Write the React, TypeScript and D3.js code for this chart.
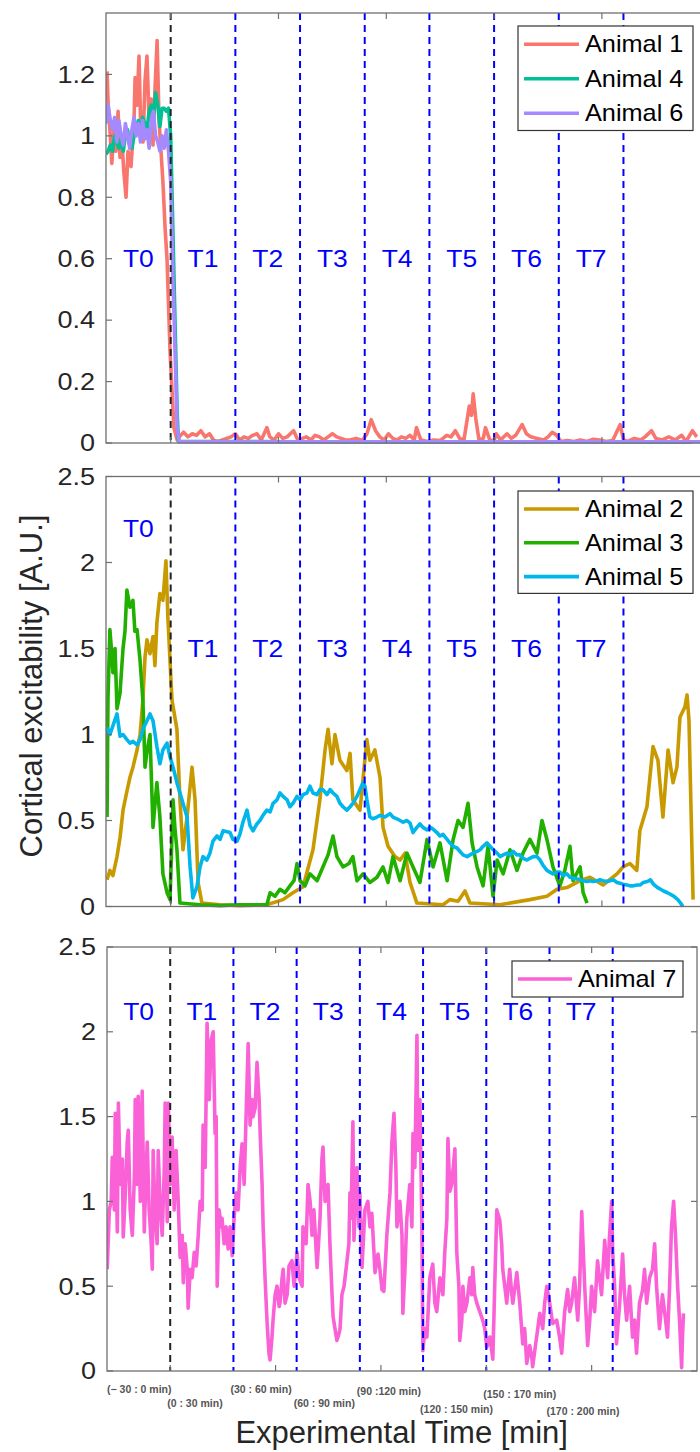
import React from 'react';
import * as d3 from 'd3';

type Pt = [number, number];

// ---------- categories / ticks ----------
const periodNames = ['T0', 'T1', 'T2', 'T3', 'T4', 'T5', 'T6', 'T7'];
const periodStarts = [-30, 0, 30, 60, 90, 120, 150, 180];
const periodLength = 30;
const boundaryTimes = [0, 30, 60, 90, 120, 150, 180, 210];
const xTickValues = [0, 50, 100, 150, 200];
const rangeLabels = ['(\u2212 30 : 0 min)', '(0 : 30 min)', '(30 : 60 min)', '(60 : 90 min)', '(90 :120 min)', '(120 : 150 min)', '(150 : 170 min)', '(170 : 200 min)'];
const topTicks = [0, 0.2, 0.4, 0.6, 0.8, 1, 1.2];
const lowerTicks = [0, 0.5, 1, 1.5, 2, 2.5];

// ---------- series (minutes, excitability) ----------
const animal1: Pt[] = [
  [-29.5, 1.21], [-29, 1.1], [-28, 1.0], [-27.3, 0.91], [-26.3, 1.02], [-25.4, 0.95], [-24.4, 1.08], [-23.5, 0.93], [-22.6, 0.98], [-21.7, 0.88],
  [-20.7, 0.8], [-19.8, 0.95], [-18.4, 0.9], [-17, 1.05], [-16.5, 1.19], [-15.6, 1.1], [-14.7, 1.26], [-13.8, 1.0], [-12.8, 0.98], [-11.9, 1.18],
  [-11, 1.26], [-10, 1.05], [-9.1, 1.12], [-8.2, 0.97], [-7.3, 1.15], [-6.3, 1.31], [-5.4, 1.05], [-4.5, 0.95], [-3.6, 0.85], [-2.6, 0.7],
  [-1.7, 0.6], [-0.3, 0.3], [1.5, 0.05], [3, 0.01],
  [4, 0.02], [6, 0.035], [8, 0.02], [10, 0.03], [12, 0.025], [14, 0.04], [16, 0.02], [18, 0.03], [20, 0.008], [22, 0.005],
  [24, 0.01], [26, 0.015], [28, 0.02], [30, 0.03], [32, 0.01], [34, 0.02], [36, 0.015], [38, 0.025], [40, 0.03], [42, 0.01],
  [44.6, 0.05], [46, 0.02], [48, 0.01], [50, 0.03], [52, 0.015], [54, 0.02], [57, 0.04], [59, 0.01], [61, 0.015], [63, 0.02],
  [65, 0.01], [67, 0.025], [69, 0.02], [71, 0.01], [73, 0.02], [75, 0.03], [77, 0.02], [79, 0.015], [81, 0.01], [83, 0.01],
  [86, 0.015], [89, 0.008], [91, 0.03], [93, 0.076], [95, 0.04], [97, 0.02], [99, 0.01], [101, 0.03], [103, 0.015], [105, 0.01],
  [107, 0.02], [109, 0.015], [111, 0.025], [113, 0.01], [114, 0.05], [116, 0.01], [119, 0.005], [122, 0.01], [125, 0.008], [128, 0.025],
  [130, 0.02], [132, 0.04], [134, 0.015], [136, 0.01], [138.5, 0.12], [139.5, 0.09], [140.3, 0.16], [141.5, 0.08], [143, 0.01], [145, 0.015],
  [146, 0.05], [148, 0.01], [150, 0.008], [151, 0.03], [153, 0.01], [156, 0.03], [158, 0.015], [160, 0.025], [163, 0.06], [165, 0.03],
  [167, 0.02], [170, 0.015], [173, 0.01], [175, 0.02], [177, 0.035], [179, 0.025], [181, 0.005], [184, 0.008], [187, 0.005], [190, 0.01],
  [193, 0.005], [196, 0.012], [199, 0.01], [202, 0.005], [205, 0.008], [208.5, 0.06], [210, 0.01], [212, 0.005], [215, 0.015], [218, 0.01],
  [220, 0.02], [223, 0.04], [225, 0.015], [228, 0.01], [231, 0.02], [234, 0.01], [237, 0.025], [239, 0.005], [242, 0.04], [244, 0.02],
];

const animal4: Pt[] = [
  [-30, 0.94], [-29, 0.95], [-28, 0.97], [-27, 0.95], [-26, 1.0], [-25, 0.98], [-24, 0.96], [-23, 0.99], [-22, 0.95], [-21, 1.0],
  [-20, 1.02], [-19, 0.97], [-18, 0.96], [-17, 1.0], [-16, 1.02], [-15, 1.05], [-14, 1.0], [-13, 1.06], [-12, 1.04], [-11, 1.02],
  [-10, 1.08], [-9, 1.1], [-8, 1.06], [-7, 1.14], [-6, 1.1], [-5, 1.03], [-4, 1.09], [-3, 1.09], [-2, 1.08], [-1, 1.09],
  [0, 1.0], [1, 0.7], [2, 0.4], [3, 0.1], [3.6, 0.005], [60, 0.004], [120, 0.003], [180, 0.004], [241.6, 0.003],
];

const animal6: Pt[] = [
  [-30, 1.04], [-29, 1.1], [-28, 1.05], [-27, 1.02], [-26, 1.06], [-25, 0.98], [-24, 1.05], [-23, 1.0], [-22, 0.97], [-21, 1.04],
  [-20, 1.0], [-19, 0.96], [-18, 1.02], [-17, 1.06], [-16, 1.0], [-15, 1.04], [-14, 0.98], [-13, 1.05], [-12, 0.99], [-11, 1.02],
  [-10, 0.96], [-9, 1.05], [-8, 1.08], [-7, 1.0], [-6, 0.98], [-5, 0.95], [-4, 1.0], [-3, 0.96], [-2, 1.02], [-1, 0.95],
  [0, 0.85], [1, 0.55], [2, 0.3], [3, 0.05], [4, 0.004], [60, 0.004], [120, 0.004], [180, 0.004], [248, 0.004],
];

const animal2: Pt[] = [
  [-29.5, 0.155], [-28.2, 0.21], [-26.8, 0.18], [-24.9, 0.29], [-23.5, 0.4], [-22.1, 0.56], [-20.3, 0.67], [-18.9, 0.75], [-17.5, 0.81], [-15.6, 0.91],
  [-14.2, 1.0], [-12.9, 1.2], [-11.9, 1.45], [-11, 1.55], [-9.6, 1.47], [-8.2, 1.57], [-7.3, 1.4], [-6.4, 1.65], [-5, 1.82], [-3.6, 1.78],
  [-2.2, 2.01], [-1.3, 1.68], [0.6, 1.2], [2.9, 1.03], [4.3, 0.62], [5.7, 0.33], [7.6, 0.52], [9.9, 0.81], [11.3, 0.62], [12.7, 0.14],
  [14.5, 0.02], [22.9, 0.01], [32, 0.005], [44.6, 0.01], [52.1, 0.04], [56.7, 0.08], [61.4, 0.115], [66, 0.33], [69.2, 0.62], [71.6, 0.91],
  [73, 1.03], [74.8, 0.83], [76.2, 1.0], [78.5, 0.85], [81.7, 0.79], [83.2, 0.89], [84.5, 0.62], [87.8, 0.56], [91, 0.97], [92.4, 0.85],
  [94.7, 0.91], [97.1, 0.75], [98.5, 0.46], [100.8, 0.35], [104, 0.29], [106.4, 0.27], [108.7, 0.31], [111, 0.14], [114.2, 0.02], [126.3, 0.01],
  [129.5, 0.04], [133.3, 0.03], [136.5, 0.09], [138.8, 0.02], [152.7, 0.01], [166.6, 0.04], [174.5, 0.06], [179.2, 0.1], [183.8, 0.11], [189.9, 0.15],
  [194.5, 0.17], [200.5, 0.125], [207, 0.19], [209.8, 0.23], [213, 0.25], [216.2, 0.21], [217.6, 0.44], [220.9, 0.58], [223.7, 0.93], [226, 0.85],
  [228.3, 0.52], [230.7, 0.91], [233, 0.72], [234.8, 0.81], [236.2, 1.1], [238.5, 1.16], [239.5, 1.23], [240.4, 1.08], [242.3, 0.04],
];

const animal3: Pt[] = [
  [-29.5, 0.52], [-29.1, 1.2], [-28.2, 1.61], [-27.2, 1.45], [-26.8, 1.36], [-25.8, 1.5], [-24.9, 1.15], [-23.5, 1.24], [-22.1, 1.5], [-21.2, 1.6],
  [-20.3, 1.84], [-18.9, 1.74], [-17.5, 1.78], [-16.6, 1.6], [-15.6, 1.61], [-14.2, 1.43], [-12.9, 1.2], [-11.9, 0.81], [-11, 0.9], [-9.6, 1.0],
  [-8.2, 0.46], [-6.4, 0.72], [-5, 0.52], [-3.6, 0.19], [-1.7, 0.08], [-0.3, 0.04], [1.1, 0.62], [2, 0.45], [2.9, 0.33], [4.3, 0.02],
  [13.6, 0.01], [22.9, 0.005], [32.1, 0.01], [44.6, 0.01], [46.1, 0.08], [48.4, 0.06], [50.7, 0.1], [53, 0.08], [55.3, 0.12], [57.2, 0.15],
  [58.6, 0.25], [60, 0.15], [62.3, 0.12], [64.6, 0.19], [67.9, 0.15], [70.6, 0.23], [73, 0.3], [75.3, 0.41], [77.1, 0.29], [79.9, 0.23],
  [82.7, 0.25], [84.5, 0.29], [86.4, 0.15], [89.2, 0.19], [92.4, 0.14], [95.7, 0.17], [98.5, 0.23], [100.8, 0.14], [103.1, 0.29], [106.4, 0.15],
  [109.6, 0.31], [112.4, 0.23], [115.6, 0.14], [118.9, 0.39], [121.7, 0.23], [124.9, 0.37], [128.2, 0.15], [131, 0.39], [133.3, 0.5], [135.6, 0.46],
  [137.9, 0.6], [139.8, 0.37], [142.1, 0.23], [144.9, 0.12], [147.2, 0.35], [149.5, 0.06], [151.4, 0.27], [154.2, 0.19], [157.4, 0.33], [160.6, 0.21],
  [163.4, 0.31], [166.6, 0.39], [169.9, 0.31], [172.2, 0.5], [174.5, 0.39], [177.3, 0.23], [180.5, 0.12], [182.8, 0.21], [185.2, 0.35], [186.6, 0.15],
  [189.9, 0.23], [191.3, 0.08], [193.1, 0.02],
];

const animal5: Pt[] = [
  [-29.5, 1.04], [-28.2, 1.0], [-26.8, 1.05], [-24.9, 1.12], [-23.5, 0.99], [-22.1, 1.0], [-20.3, 0.97], [-18.9, 0.95], [-17.5, 0.96], [-15.6, 0.94],
  [-14.2, 0.97], [-12.9, 1.03], [-11, 1.08], [-9.6, 1.12], [-8.2, 1.08], [-6.4, 0.93], [-5, 0.83], [-3.6, 0.91], [-1.7, 0.95], [-0.3, 0.87],
  [1.1, 0.81], [2.9, 0.72], [4.3, 0.66], [5.7, 0.6], [7.6, 0.52], [9, 0.23], [10.3, 0.05], [12.2, 0.115], [13.6, 0.23], [15, 0.29],
  [16.8, 0.27], [18.2, 0.31], [19.6, 0.38], [21.5, 0.41], [22.9, 0.39], [24.3, 0.44], [27.5, 0.43], [28.9, 0.39], [30.8, 0.38], [32.1, 0.42],
  [33.5, 0.49], [35.4, 0.56], [36.8, 0.47], [38.2, 0.44], [40, 0.48], [41.4, 0.5], [42.8, 0.53], [44.6, 0.56], [46.1, 0.55], [47.5, 0.6],
  [49.3, 0.62], [50.7, 0.66], [52.1, 0.64], [54, 0.62], [55.3, 0.58], [56.7, 0.6], [58.6, 0.64], [60, 0.62], [61.4, 0.65], [63.2, 0.66],
  [64.6, 0.7], [66, 0.66], [67.9, 0.65], [69.2, 0.68], [70.6, 0.68], [72.5, 0.65], [73.9, 0.68], [75.3, 0.66], [77.1, 0.64], [78.5, 0.6],
  [79.9, 0.58], [81.7, 0.56], [83.2, 0.58], [84.5, 0.6], [86.4, 0.64], [87.8, 0.68], [89.2, 0.72], [90.1, 0.7], [91, 0.62], [92.4, 0.52],
  [93.8, 0.51], [95.7, 0.52], [97.1, 0.53], [99.4, 0.52], [101.7, 0.54], [103.1, 0.52], [104.9, 0.51], [106.4, 0.5], [107.8, 0.49], [109.6, 0.5],
  [111, 0.485], [112.4, 0.43], [114.2, 0.46], [115.6, 0.48], [117, 0.46], [118.9, 0.445], [120.3, 0.46], [121.7, 0.45], [123.5, 0.43], [124.9, 0.41],
  [126.3, 0.42], [128.2, 0.39], [129.5, 0.37], [131, 0.35], [132.8, 0.34], [134.2, 0.32], [135.6, 0.3], [137.5, 0.29], [138.8, 0.3], [140.3, 0.31],
  [142.1, 0.32], [143.5, 0.33], [144.9, 0.35], [146.7, 0.37], [148.1, 0.35], [149.6, 0.33], [151.4, 0.31], [152.8, 0.29], [154.2, 0.3], [156, 0.31],
  [157.4, 0.3], [158.8, 0.32], [160.6, 0.3], [162, 0.3], [163.4, 0.28], [165.3, 0.27], [166.6, 0.28], [168.1, 0.29], [169.9, 0.29], [171.3, 0.27],
  [172.7, 0.24], [174.5, 0.21], [175.9, 0.2], [177.3, 0.19], [179.2, 0.2], [180.5, 0.2], [182, 0.18], [183.8, 0.19], [185.2, 0.17], [186.6, 0.165],
  [188.5, 0.16], [189.9, 0.155], [191.3, 0.15], [193.1, 0.145], [194.5, 0.15], [195.9, 0.145], [197.8, 0.15], [199.1, 0.155], [200.5, 0.15], [202.4, 0.145],
  [203.8, 0.15], [205.3, 0.155], [207, 0.14], [208.4, 0.135], [209.8, 0.13], [211.7, 0.125], [213.1, 0.12], [214.5, 0.12], [216.4, 0.125], [217.8, 0.125],
  [219.2, 0.14], [221.1, 0.145], [222.5, 0.155], [223.9, 0.13], [225.8, 0.11], [227.2, 0.1], [228.6, 0.09], [230.4, 0.08], [231.9, 0.07], [233.3, 0.06],
  [235.2, 0.04], [236.5, 0.02], [237.5, 0.0],
];

const animal7: Pt[] = [
  [-29.9, 0.6], [-28.9, 0.95], [-28, 1.0], [-27.5, 1.26], [-26.5, 0.95], [-26.1, 1.52], [-25.1, 0.82], [-24.6, 1.58], [-23.7, 1.1], [-22.7, 1.25],
  [-22.3, 0.79], [-21.3, 1.05], [-20.4, 1.35], [-19.9, 1.42], [-19, 0.95], [-18, 0.8], [-17, 1.15], [-16.6, 1.6], [-15.6, 1.1], [-15.2, 1.62],
  [-14.2, 1.0], [-13.3, 1.65], [-12.3, 0.82], [-11.4, 1.2], [-10.9, 1.35], [-10, 0.95], [-9, 0.75], [-8.5, 0.6], [-8.1, 1.3], [-7.1, 0.9],
  [-6.2, 0.75], [-5.7, 1.3], [-4.7, 0.95], [-3.8, 0.8], [-2.8, 1.2], [-2.4, 1.58], [-1.4, 0.88], [-0.9, 1.58], [0, 1.1], [0.9, 1.38],
  [1.9, 0.95], [2.8, 1.3], [3.8, 1.0], [4.7, 0.67], [5.7, 0.8], [6.2, 0.52], [7.1, 0.75], [8.1, 0.6], [8.5, 0.37], [9.5, 0.6],
  [10.4, 0.55], [11.4, 0.7], [12.3, 0.62], [13.3, 0.8], [14.2, 1.0], [15.2, 0.95], [15.6, 1.45], [16.6, 1.2], [17.5, 2.05], [18.5, 1.6],
  [19.4, 1.95], [20.4, 2.0], [21.3, 1.4], [21.8, 1.5], [22.3, 0.5], [23.2, 0.95], [24.2, 0.85], [24.6, 0.9], [25.6, 0.75], [26.5, 0.85],
  [27.5, 0.72], [28.4, 0.85], [29.4, 0.68], [30.3, 0.9], [31.3, 1.05], [32.2, 0.95], [33.2, 1.2], [34.1, 1.34], [35.1, 1.1], [36, 1.5],
  [37, 1.93], [37.9, 1.45], [38.9, 1.6], [39.3, 1.5], [40.3, 1.55], [41.2, 1.82], [42.2, 1.6], [42.7, 1.4], [43.6, 1.1], [44.1, 0.85],
  [45, 0.55], [46, 0.28], [46.9, 0.1], [47.4, 0.065], [48.3, 0.2], [48.8, 0.3], [49.8, 0.45], [50.7, 0.5], [51.7, 0.38], [52.1, 0.4],
  [53.1, 0.55], [53.6, 0.6], [54.5, 0.4], [55.5, 0.45], [56.4, 0.62], [57.8, 0.65], [58.8, 0.5], [59.2, 0.55], [60.2, 0.7], [61.1, 0.55],
  [62.6, 0.5], [63, 0.85], [64.5, 0.75], [65.4, 1.1], [66.4, 1.0], [67.3, 0.8], [68.2, 0.95], [69.7, 0.61], [71.1, 0.9], [72, 1.25],
  [72.5, 1.32], [73.5, 1.0], [74.9, 1.1], [75.8, 0.75], [76.8, 0.45], [77.3, 0.32], [78.2, 0.25], [79.1, 0.18], [80.1, 0.22], [80.6, 0.25],
  [81.5, 0.45], [82.5, 0.5], [83.9, 0.65], [84.8, 0.75], [85.3, 1.05], [85.8, 0.9], [86.7, 1.47], [87.2, 0.77], [88.6, 1.2], [89.6, 0.85],
  [90, 1.05], [91, 0.61], [92.4, 0.95], [93.8, 1.0], [94.8, 0.85], [95.7, 0.93], [97.2, 0.58], [98.6, 0.69], [99.5, 0.6], [100.5, 0.48],
  [101.4, 0.47], [102.8, 0.8], [104.3, 1.05], [105.2, 1.35], [106.2, 1.52], [107.1, 1.2], [107.6, 0.85], [109, 1.0], [110, 0.8], [110.4, 0.34],
  [111.4, 0.6], [112.3, 0.9], [113.7, 1.1], [114.7, 0.85], [115.2, 1.4], [116.1, 1.2], [117.1, 1.98], [117.5, 1.3], [118.5, 1.6], [119.4, 0.9],
  [119.9, 0.12], [120.9, 0.25], [121.8, 0.2], [123.2, 0.55], [124.6, 0.63], [125.6, 0.4], [126.5, 0.35], [128, 0.55], [129.4, 0.45], [130.3, 0.7],
  [131.3, 0.9], [131.8, 1.37], [132.7, 1.06], [133.6, 1.1], [135.1, 1.31], [136, 0.7], [137, 0.5], [137.4, 0.18], [138.4, 0.3], [138.9, 0.5],
  [139.8, 0.35], [140.8, 0.4], [142.2, 0.55], [143.1, 0.45], [143.6, 0.61], [144.5, 0.45], [145.5, 0.4], [146.9, 0.35], [148.3, 0.3], [149.3, 0.25],
  [150.2, 0.14], [151.7, 0.2], [153.1, 0.07], [154, 0.5], [155, 0.95], [156.4, 0.89], [157.3, 0.75], [157.8, 0.6], [158.8, 0.5], [159.7, 0.4],
  [161.1, 0.6], [162.1, 0.45], [162.6, 0.4], [164.5, 0.58], [165.9, 0.4], [167.3, 0.16], [168.2, 0.25], [169.2, 0.045], [170.6, 0.15], [171.6, 0.08],
  [172, 0.025], [173, 0.12], [173.9, 0.2], [175.4, 0.34], [176.8, 0.25], [177.7, 0.4], [178.7, 0.5], [180.1, 0.4], [181.5, 0.28], [183.4, 0.3],
  [184.8, 0.2], [185.8, 0.105], [187.2, 0.35], [188.6, 0.48], [189.6, 0.35], [190.5, 0.4], [191.9, 0.55], [193.4, 0.3], [194.3, 0.5], [195.3, 0.94],
  [196.7, 0.5], [198.1, 0.15], [199.1, 0.3], [200, 0.5], [201.4, 0.35], [202.8, 0.65], [204.7, 0.45], [206.2, 0.77], [207.6, 0.55], [208.5, 0.8],
  [209.5, 1.0], [210, 0.7], [210.9, 0.5], [211.8, 0.16], [213.3, 0.4], [214.7, 0.69], [215.6, 0.45], [216.6, 0.3], [218, 0.5], [219.4, 0.2],
  [220.4, 0.3], [221.3, 0.105], [222.7, 0.4], [224.2, 0.48], [225.1, 0.6], [226.1, 0.4], [227.5, 0.55], [228.9, 0.6], [229.9, 0.75], [230.8, 0.5],
  [232.2, 0.25], [233.6, 0.45], [235.1, 0.3], [236, 0.2], [237, 0.5], [237.9, 0.85], [238.9, 1.0], [239.8, 0.8], [240.8, 0.5], [241.7, 0.3],
  [242.7, 0.02], [243.1, 0.2], [243.6, 0.34],
];

// ---------- layout / style ----------
const FONT = 'Liberation Sans, Arial, Helvetica, sans-serif';
const AXIS = '#707070';
const TEXT = '#262626';
const BLUE = '#0000ff';
const LINE_W = 3.6;

interface SeriesDef { name: string; color: string; data: Pt[] }
interface PanelDef {
  left: number; right: number; top: number; bottom: number; yMax: number; ticks: number[];
  series: SeriesDef[]; labelY: number[];
  legend: { x: number; y: number; w: number; rowH: number; first: number; lineX0: number; lineX1: number; textX: number };
}

const panels: PanelDef[] = [
  {
    left: 106, right: 709.7, top: 13, bottom: 443, yMax: 1.4, ticks: topTicks,
    series: [
      { name: 'Animal 1', color: '#F8766D', data: animal1 },
      { name: 'Animal 4', color: '#00C094', data: animal4 },
      { name: 'Animal 6', color: '#A58AFF', data: animal6 },
    ],
    labelY: [0.6, 0.6, 0.6, 0.6, 0.6, 0.6, 0.6, 0.6],
    legend: { x: 518, y: 26, w: 175, rowH: 34.5, first: 44.3, lineX0: 524, lineX1: 579, textX: 585 },
  },
  {
    left: 106, right: 709.7, top: 476.5, bottom: 906.5, yMax: 2.5, ticks: lowerTicks,
    series: [
      { name: 'Animal 2', color: '#C99A00', data: animal2 },
      { name: 'Animal 3', color: '#22B000', data: animal3 },
      { name: 'Animal 5', color: '#00B6EB', data: animal5 },
    ],
    labelY: [2.2, 1.5, 1.5, 1.5, 1.5, 1.5, 1.5, 1.5],
    legend: { x: 518, y: 491, w: 175, rowH: 33.8, first: 509, lineX0: 524, lineX1: 579, textX: 585 },
  },
  {
    left: 107, right: 697, top: 947, bottom: 1371, yMax: 2.5, ticks: lowerTicks,
    series: [
      { name: 'Animal 7', color: '#FB61D7', data: animal7 },
    ],
    labelY: [2.12, 2.12, 2.12, 2.12, 2.12, 2.12, 2.12, 2.12],
    legend: { x: 512, y: 961, w: 171, rowH: 36, first: 979, lineX0: 518, lineX1: 572, textX: 578 },
  },
];

const rangeLabelDy = [22, 36, 22, 36, 24, 42, 27, 44];

const SText: React.FC<any> = ({ x, y, sx = 1, children, ...rest }) => (
  <text transform={`translate(${x},${y}) scale(${sx},1)`} {...rest}>{children}</text>
);

function Panel({ p, idx }: { p: PanelDef; idx: number }) {
  const x = d3.scaleLinear().domain([-30, 250]).range([p.left, p.right]);
  const y = d3.scaleLinear().domain([0, p.yMax]).range([p.bottom, p.top]);
  const line = d3.line<Pt>().x(d => x(d[0])).y(d => y(d[1]));
  const clipId = `clip${idx}`;
  const tickLen = 6;
  const L = p.legend;
  return (
    <g>
      <defs>
        <clipPath id={clipId}>
          <rect x={p.left} y={p.top} width={p.right - p.left} height={p.bottom - p.top + 1.5} />
        </clipPath>
      </defs>
      <g clipPath={`url(#${clipId})`}>
        {p.series.map(s => (
          <path key={s.name} d={line(s.data) || ''} fill="none" stroke={s.color} strokeWidth={LINE_W} strokeLinejoin="round" />
        ))}
        {boundaryTimes.map((t, i) => (
          <line key={t} x1={x(t)} x2={x(t)} y1={p.top} y2={p.bottom} stroke={i === 0 ? '#222' : BLUE}
            strokeWidth={2} strokeDasharray="7,5" />
        ))}
      </g>
      <rect x={p.left} y={p.top} width={p.right - p.left} height={p.bottom - p.top} fill="none" stroke={AXIS} strokeWidth={1.3} />
      {p.ticks.map(v => (
        <g key={v}>
          <line x1={p.left} x2={p.left + tickLen} y1={y(v)} y2={y(v)} stroke={AXIS} strokeWidth={1.2} />
          <line x1={p.right} x2={p.right - tickLen} y1={y(v)} y2={y(v)} stroke={AXIS} strokeWidth={1.2} />
          <SText x={p.left - 11} y={y(v)} sx={1.15} textAnchor="end" dominantBaseline="central" fontSize={23.5} fill={TEXT} fontFamily={FONT}>
            {d3.format('~g')(v)}
          </SText>
        </g>
      ))}
      {xTickValues.map(t => (
        <g key={t}>
          <line x1={x(t)} x2={x(t)} y1={p.bottom} y2={p.bottom - tickLen} stroke={AXIS} strokeWidth={1.2} />
          <line x1={x(t)} x2={x(t)} y1={p.top} y2={p.top + tickLen} stroke={AXIS} strokeWidth={1.2} />
        </g>
      ))}
      {periodNames.map((n, i) => (
        <SText key={n} x={x(periodStarts[i] + periodLength / 2)} y={y(p.labelY[i])} sx={1.08} textAnchor="middle"
          dominantBaseline="central" fontSize={24.5} fill={BLUE} fontFamily={FONT}>{n}</SText>
      ))}
      <rect x={L.x} y={L.y} width={L.w} height={p.series.length * L.rowH + (p.series.length === 1 ? 0 : 1)} fill="#fff" stroke="#333" strokeWidth={1.2} />
      {p.series.map((s, i) => (
        <g key={s.name}>
          <line x1={L.lineX0} x2={L.lineX1} y1={L.first + i * L.rowH} y2={L.first + i * L.rowH} stroke={s.color} strokeWidth={LINE_W} />
          <SText x={L.textX} y={L.first + i * L.rowH} sx={1.1} dominantBaseline="central" fontSize={23} fill="#000" fontFamily={FONT}>{s.name}</SText>
        </g>
      ))}
      {idx === 2 && rangeLabels.map((lab, i) => (
        <text key={lab} x={x(periodStarts[i]) - (i === 0 ? 0 : 3)} y={p.bottom + rangeLabelDy[i]}
          fontSize={10.5} fontWeight="bold" fill="#555" fontFamily={FONT}>{lab}</text>
      ))}
    </g>
  );
}

export default function App() {
  return (
    <svg width={700} height={1452} viewBox="0 0 700 1452"
      style={{ position: 'absolute', left: 0, top: 0, background: '#fff', display: 'block' }}>
      <rect x={0} y={0} width={700} height={1452} fill="#fff" />
      {panels.map((p, i) => <Panel key={i} p={p} idx={i} />)}
      <text transform="translate(42,686) rotate(-90)" textAnchor="middle" fontSize={31} fill={TEXT} fontFamily={FONT}>
        Cortical excitability [A.U.]
      </text>
      <text x={401.7} y={1443} textAnchor="middle" fontSize={31} fill={TEXT} fontFamily={FONT}>
        Experimental Time [min]
      </text>
    </svg>
  );
}
